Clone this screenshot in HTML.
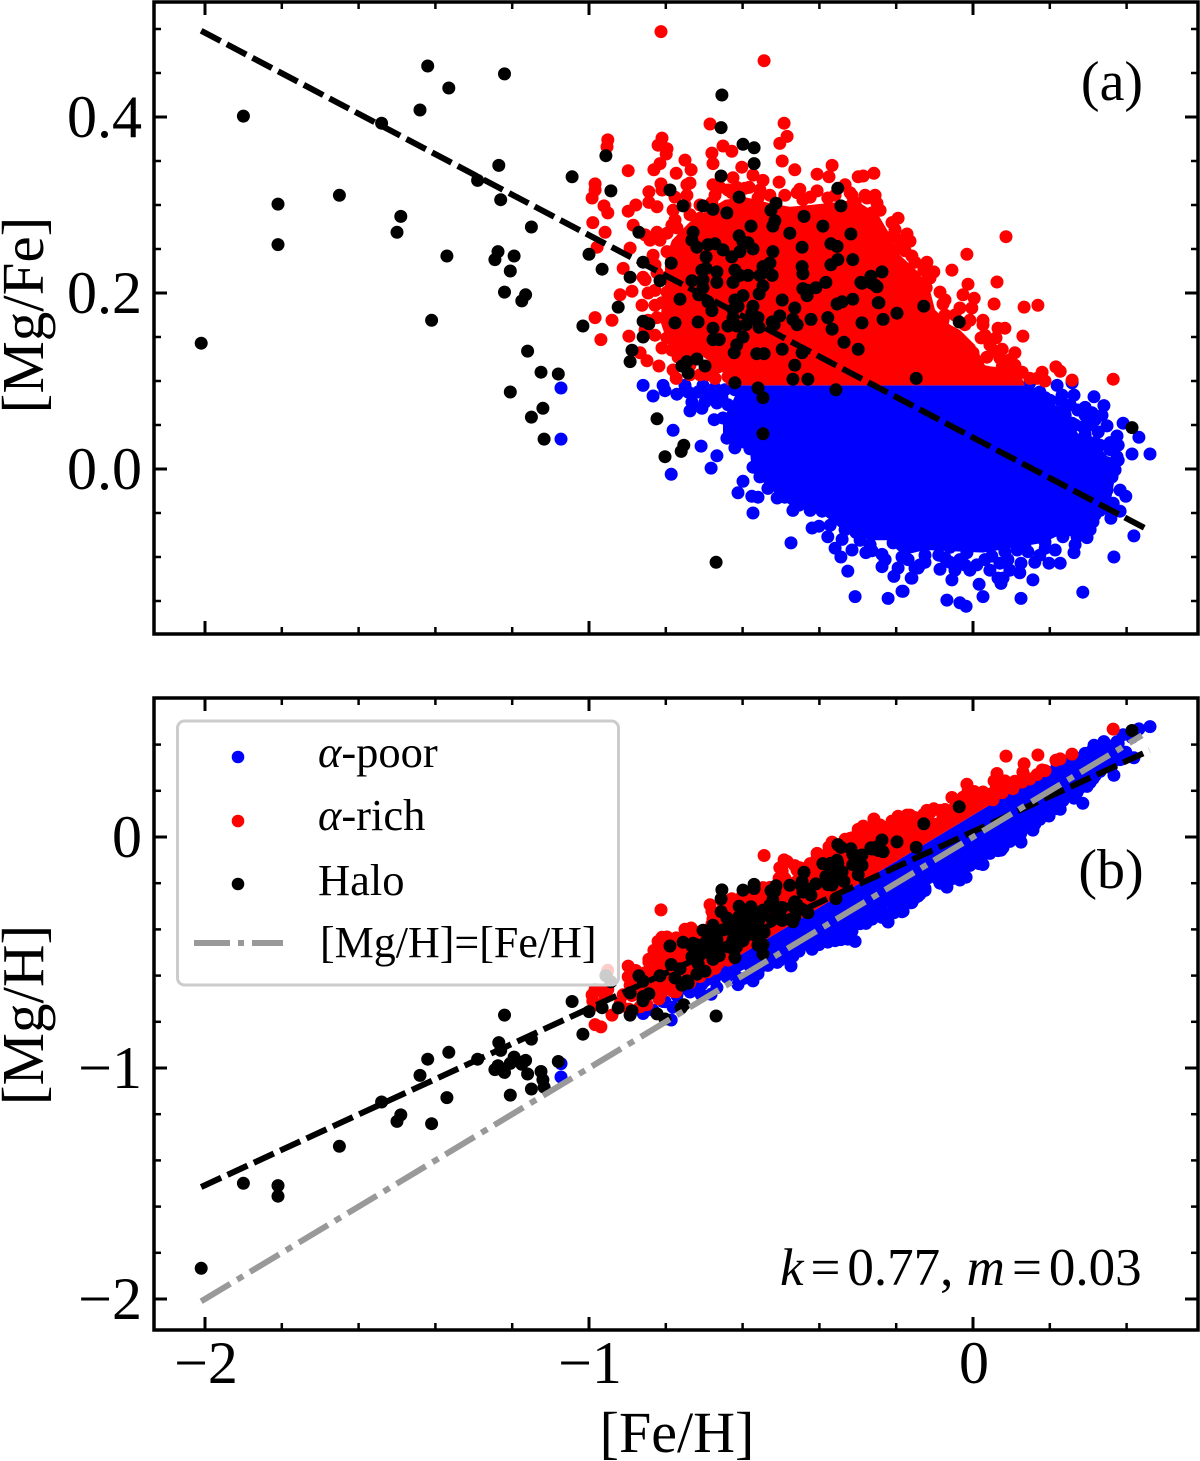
<!DOCTYPE html>
<html lang="en">
<head>
<meta charset="utf-8">
<title>[Mg/Fe] and [Mg/H] versus [Fe/H]</title>
<style>
html,body{margin:0;padding:0;background:#fff;width:1200px;height:1461px;overflow:hidden}
svg{display:block;font-family:"Liberation Serif",serif}
</style>
</head>
<body>
<svg id="chart" xmlns="http://www.w3.org/2000/svg" width="1200" height="1461" viewBox="0 0 1200 1461">
<rect x="0" y="0" width="1200" height="1461" fill="#fff"/>
<g id="panelA"></g>
<g id="panelB"></g>
<text transform="translate(43,315) rotate(-90)" text-anchor="middle" font-size="59">[Mg/Fe]</text>
<text transform="translate(43,1015) rotate(-90)" text-anchor="middle" font-size="59">[Mg/H]</text>
<text x="677" y="1452" text-anchor="middle" font-size="58">[Fe/H]</text>
<text x="1112" y="100" text-anchor="middle" font-size="56">(a)</text>
<text x="1111" y="888" text-anchor="middle" font-size="56">(b)</text>
<text x="780" y="1285" font-size="53"><tspan font-style="italic">k</tspan><tspan dx="7">=</tspan><tspan dx="7">0.77, </tspan><tspan font-style="italic">m</tspan><tspan dx="7">=</tspan><tspan dx="7">0.03</tspan></text>
<g id="legend">
<rect x="177.5" y="721" width="441" height="264" rx="7" fill="#fff" fill-opacity="0.8" stroke="#ccc" stroke-width="3"/>
<circle cx="238" cy="757" r="6.3" fill="#0000ff"/>
<text x="318" y="767" font-size="44.5"><tspan font-style="italic">α</tspan>-poor</text>
<circle cx="238" cy="821" r="6.3" fill="#ff0000"/>
<text x="318" y="830" font-size="44.5"><tspan font-style="italic">α</tspan>-rich</text>
<circle cx="238" cy="884" r="6.3" fill="#000"/>
<text x="318" y="895" font-size="44.5">Halo</text>
<line x1="194" y1="943" x2="283" y2="943" stroke="#999" stroke-width="6" stroke-dasharray="36 8 6 8"/>
<text x="320" y="957" font-size="44">[Mg/H]=[Fe/H]</text>
</g>
</svg>
<script>
// Each star is [ [Fe/H], [Mg/Fe] ]. Panel (b) plots [Mg/H] = [Fe/H] + [Mg/Fe].
const haloStars = [[-2.01,.143],[-1.9,.401],[-1.81,.301],[-1.81,.255],[-1.65,.311],[-1.54,.393],[-1.49,.287],[-1.5,.269],[-1.44,.408],[-1.42,.458],[-1.365,.433],[-1.41,.169],[-1.37,.242],[-1.29,.328],[-1.235,.345],[-1.22,.449],[-1.23,.306],[-1.237,.247],[-1.245,.238],[-1.195,.242],[-1.205,.225],[-1.22,.201],[-1.165,.198],[-1.175,.191],[-1.15,.275],[-1.16,.134],[-1.205,.0875],[-1.125,.11],[-1.08,.108],[-1.15,.059],[-1.12,.069],[-1.117,.034],
[-.654,.425],[-.656,.388],[-.599,.369],[-.57,.365],[-.57,.347],[-.656,.333],[-.956,.356],[-1.044,.332],[-.943,.316],[-.789,.317],[-.352,.319],[-.755,.299],[-.703,.299],[-.677,.295],[-.609,.309],[-.513,.302],[-.526,.294],[-.344,.299],[-.641,.291],[-.44,.287],[-.578,.276],[-.516,.282],[-.521,.276],[-.391,.276],[-.87,.269],[-.729,.269],[-.609,.265],[-.477,.268],[-.318,.267],
[-1,.244],[-.966,.227],[-1.016,.1625],[-.893,.218],[-.859,.235],[-.786,.234],[-.815,.214],[-.924,.184],[-.763,.193],[-.859,.168],[-.844,.165],[-.859,.15],[-.888,.135],[-.893,.122],[-.776,.166],[-.716,.167],[-.677,.16],[-.823,.057],
[-.732,.26],[-.719,.252],[-.69,.255],[-.672,.256],[-.651,.249],[-.695,.241],[-.695,.228],[-.706,.226],[-.667,.224],[-.732,.214],[-.703,.215],[-.667,.212],[-.703,.206],[-.714,.198],[-.69,.19],[-.68,.18],[-.599,.258],[-.586,.257],[-.573,.25],[-.607,.247],[-.628,.241],[-.521,.247],[-.529,.234],[-.547,.23],[-.555,.22],[-.523,.22],[-.62,.226],[-.607,.22],[-.586,.22],[-.625,.212],[-.547,.208],[-.557,.199],
[-.497,.192],[-.599,.197],[-.62,.192],[-.612,.185],[-.573,.185],[-.576,.177],[-.625,.181],[-.56,.172],[-.625,.172],[-.638,.1625],[-.615,.1625],[-.591,.164],[-.557,.161],[-.523,.167],[-.503,.174],[-.518,.164],[-.464,.183],[-.469,.17],[-.458,.164],[-.422,.17],[-.378,.172],[-.367,.159],[-.289,.166],
[-.445,.252],[-.445,.23],[-.443,.222],[-.443,.205],[-.43,.203],[-.432,.197],[-.409,.206],[-.383,.212],[-.37,.256],[-.354,.253],[-.37,.232],[-.352,.238],[-.313,.238],[-.341,.19],[-.354,.1875],[-.313,.193],[-.289,.211],[-.266,.219],[-.255,.209],[-.247,.189],
[-.677,.147],[-.661,.147],[-.599,.15],[-.615,.141],[-.622,.132],[-.563,.131],[-.544,.131],[-.497,.136],[-.445,.132],[-.464,.118],[-.336,.144],[-.299,.136],[-.469,.102],[-.43,.102],[-.62,.098],[-.56,.092],[-.547,.081],[-.357,.09],[-.547,.04],[-.758,.117],[-.742,.109],[-.745,.122],[-.719,.125],[-.698,.117],
[-.237,.224],[-.292,.212],[-.263,.211],[-.25,.207],[-.245,.189],[-.128,.185],[-.198,.177],[-.234,.17],[-.036,.167],[-.148,.103],[-.753,.027],[-.76,.02],[-.802,.014],[-.669,-.106],[.414,.047]];

const alphaRichStars = [[-.8125,.497],[-.544,.464],[-.951,.374],[-.953,.366],[-.685,.392],[-.492,.393],[-.484,.378],[-.503,.37],[-.81,.376],[-.82,.368],[-.797,.364],[-.799,.358],[-.68,.359],[-.651,.367],[-.628,.361],[-.75,.351],[-.815,.347],[-.831,.34],[-.898,.339],[-.734,.34],[-.773,.336],[-.677,.347],[-.602,.343],[-.497,.35],[-.464,.34],[-.367,.345],[-.406,.335],[-.375,.332],[-.573,.334],[-.547,.328],[-.505,.326],[-.984,.324],[-.984,.317],[-.992,.308],[-.8125,.324],[-.81,.317],[-.737,.325],[-.745,.323],[-.677,.323],[-.659,.32],[-.625,.331],[-.615,.32],[-.583,.32],[-.844,.315],[-.961,.299],[-.951,.291],[-.844,.303],[-.823,.298],[-.878,.3],[-.898,.293],[-.745,.311],[-.776,.309],[-.451,.318],[-.458,.314],[-.406,.316],[-.378,.308],[-.333,.323],[-.32,.314],[-.307,.303],[-.299,.332],[-.56,.308],[-.628,.314],[-.99,.28],[-.958,.269],[-.885,.277],[-.823,.269],[-.781,.294],[-.776,.283],[-.711,.285],[-.685,.28],[-.68,.303],[-.771,.274],[-.797,.268],[-.659,.266],[-.443,.306],[-.398,.291],[-.32,.286],
[-.979,.252],[-.893,.251],[-.911,.228],[-.854,.266],[-.859,.218],[-.833,.243],[-.797,.247],[-.919,.198],[-.888,.202],[-.862,.186],[-.846,.2],[-.81,.189],[-.984,.172],[-.94,.169],[-.969,.147],[-.896,.151],[-.823,.172],[-.854,.158],[-.794,.167],[-.81,.1375],[-.797,.149],[-.867,.132],[-.849,.123],[-.818,.117],[-.781,.1125],[-.773,.103],[-.768,.127],[-.724,.1375],[-.719,.15],[-.711,.107],[-.664,.116],[-.651,.126],[-.638,.105],[-.745,.15],[-.823,.223],[-.797,.218],[-.771,.203],[-.763,.177],[-.745,.234],[-.797,.201],[-.763,.161],[-.755,.135],[-.698,.139],
[-.286,.333],[-.258,.336],[-.315,.311],[-.276,.308],[-.25,.302],[-.3125,.302],[-.299,.291],[-.263,.291],[-.195,.285],[-.211,.28],[-.172,.267],[-.164,.259],[-.211,.264],[-.247,.253],[-.193,.251],[-.159,.242],[-.12,.235],[-.128,.226],[-.102,.224],[-.055,.226],[-.016,.244],[.086,.264],[-.125,.2125],[-.013,.21],[.0625,.2125],[-.086,.201],[-.122,.206],[-.026,.198],[.003,.194],[-.078,.1875],[.055,.1875],[.133,.184],[.169,.186],[-.034,.183],[-.003,.183],[-.078,.169],[.026,.169],[.026,.164],[-.008,.169],[.065,.16],[.083,.16],[.06,.149],[.021,.149],[.13,.151],[.076,.136],[.057,.134],[.109,.132],[.036,.127],[0,.132],[.076,.116],[.104,.1125],[.128,.11],[.216,.116],[.227,.111],[.18,.11],[.1875,.1],[.167,.103],[.258,.101],[.365,.102],[.104,.105],[.052,.109],
[-.737,.289],[-.711,.3],[-.672,.311],[-.638,.317],[-.594,.319],[-.555,.317],[-.529,.311],[-.49,.311],[-.424,.309],[-.359,.311],[-.281,.311],[-.242,.294],[-.203,.272],[-.19,.26],[-.151,.235],[-.112,.217],[-.073,.192],[-.047,.175],[-.021,.164],[.031,.152],[.044,.141],[.07,.126],[.096,.124],[.148,.103],[-.841,.26],[-.815,.26],[-.784,.277],[-.75,.3],[-.828,.232],[-.854,.215],[-.828,.203],[-.828,.186],[-.846,.169],[-.828,.152],[-.784,.135],[-.737,.118],[-.685,.115],[-.69,.107],[-.672,.103],[-.737,.107],[-.255,.311],[-.177,.248],[-.138,.209],[-.073,.175],[.109,.118]];

const alphaPoorStars = [[-1.073,.092],[-1.073,.034],[-.859,.095],[-.833,.083],[-.807,.095],[-.802,.089],[-.771,.085],[-.75,.095],[-.742,.0875],[-.732,.076],[-.737,.066],[-.706,.069],[-.698,.076],[-.703,.095],[-.672,.092],[-.654,.081],[-.674,.056],[-.651,.058],[-.781,.044],[-.708,.026],[-.667,.015],[-.682,.001],[-.786,-.006],[-.641,.035],[-.62,.024],[-.581,.023],[-.573,.002],[-.599,-.014],[-.612,-.027],[-.576,-.031],[-.56,-.032],[-.573,-.05],[-.534,-.022],[-.555,-.009],[-.503,-.015],[-.51,-.033],[-.49,-.032],[-.469,-.047],[-.453,-.041],[-.424,-.047],[-.393,-.048],[-.419,-.067],[-.401,-.065],[-.378,-.077],[-.359,-.09],[-.341,-.08],[-.344,-.1],[-.315,-.092],[-.305,-.072],[-.474,-.084],[-.326,-.116],[-.307,-.145],[-.279,-.095],[-.263,-.093],[-.237,-.097],[-.237,-.111],[-.206,-.122],[-.221,-.147],[-.185,-.139],[-.159,-.124],[-.195,-.1125],[-.151,-.1125],[-.208,-.084],[-.185,-.1],[-.443,-.016],[-.458,-.0125],[-.417,-.02],[-.51,.002],[-.536,.014],
[.219,.095],[.258,.099],[.232,.084],[.263,.084],[.315,.082],[.292,.07],[.341,.072],[.24,.069],[.193,.073],[.31,.064],[.336,.061],[.258,.052],[.286,.048],[.245,.042],[.349,.049],[.326,.042],[.391,.052],[.375,.0375],[.432,.036],[.357,.03],[.378,.027],[.414,.017],[.461,.017],[.375,.014],[.357,.022],[.3,.031],[.318,.03],[.271,.033],[.305,.022],[.331,.0125],[.349,.007],[.362,-.009],[.349,-.024],[.398,-.031],[.365,-.039],[.383,-.048],[.359,-.056],[.419,-.076],[.367,-.1],[.3125,-.06],[.292,-.066],[.297,-.078],[.271,-.077],[.234,-.077],[.263,-.095],[.286,-.14],[.227,-.107],[.198,-.107],[.161,-.106],[.1875,-.083],[.135,-.0875],[.125,-.107],[.122,-.118],[.156,-.126],[.125,-.147],[.091,-.103],[.07,-.107],[.049,-.099],[.078,-.124],[.065,-.124],[.073,-.13],[.016,-.131],[.026,-.145],[-.018,-.156],[-.034,-.152],[-.068,-.149],[-.055,-.126],[-.008,-.115],[.01,-.109],[-.047,-.115],[-.086,-.114],[-.089,-.098],[-.161,-.124],[-.143,-.1125],[-.125,-.106],[-.182,-.139],[-.016,-.095],[-.06,-.089],[.115,-.092],[.148,.098],[.148,.0875],[.258,.098],
[-.169,-.103],[-.125,-.098],[-.073,-.101],[-.034,-.103],[.031,-.103],[.083,-.094],[.143,-.094],[.188,-.09],[-.503,-.03],[-.451,-.03],[-.372,-.064],[-.333,-.069],[-.268,-.086],[-.294,-.081],[.331,-.047],[.318,-.052],[.279,-.066],[.253,-.069],[.305,-.069],[.331,.027],[.292,.039],[.266,.05],[.24,.061],[.201,.078],[.305,.05],[.318,.056],[.292,.061],[.273,.067],[.253,.073],[.227,.078],[.37,-.001],[.378,.01],[.383,-.024],[.357,-.047],[-.646,.09],[-.62,.09],[-.638,.073],[-.716,.0875],[-.685,.084],[-.667,.075],[.148,.084],[.174,.0875],[.188,.081],[-.229,-.103],[-.138,-.109],[.044,-.115],[.096,-.115],[.174,-.098],[.214,-.092],[.266,-.086],[-.06,-.106],[-.021,-.109]];

// Outlines of the saturated regions where thousands of overplotted stars merge into solid colour.
const alphaRichDenseOutline = [[-.641,.095],[-.654,.1125],[-.711,.13],[-.763,.124],[-.794,.141],[-.815,.169],[-.802,.209],[-.802,.2375],[-.784,.26],[-.737,.281],[-.698,.292],[-.646,.306],[-.594,.309],[-.529,.302],[-.477,.298],[-.424,.3],[-.359,.303],[-.307,.306],[-.247,.289],[-.216,.266],[-.19,.243],[-.143,.224],[-.112,.203],[-.099,.181],[-.06,.164],[-.034,.158],[.005,.141],[.031,.118],[.122,.11],[.135,.095]];
const alphaPoorDenseOutline = [[-.607,.095],[-.625,.078],[-.651,.056],[-.651,.036],[-.62,.025],[-.581,.022],[-.576,-.003],[-.529,-.022],[-.477,-.041],[-.398,-.049],[-.346,-.067],[-.268,-.081],[-.224,-.081],[-.182,-.098],[-.125,-.092],[.026,-.095],[.07,-.092],[.182,-.084],[.24,-.072],[.292,-.061],[.357,-.041],[.37,-.009],[.357,.01],[.323,.03],[.279,.036],[.253,.056],[.227,.07],[.148,.086],[.141,.095]];

const fitFeH = [-2.01, .46];
const fitMgFe = [.498, -.07];
const fitMgH = [-1.515, .375];
const identityFeH = [-2.01, .44];

const xMajorTicks = [-2, -1, 0];
const xMajorLabels = ['−2', '−1', '0'];
const xMinorTicks = [-1.8, -1.6, -1.4, -1.2, -.8, -.6, -.4, -.2, .2, .4];
const yMajorTicksA = [0, .2, .4];
const yMajorLabelsA = ['0.0', '0.2', '0.4'];
const yMinorTicksA = [-.15, -.1, -.05, .05, .1, .15, .25, .3, .35, .45, .5];
const yMajorTicksB = [-2, -1, 0];
const yMajorLabelsB = ['−2', '−1', '0'];
const yMinorTicksB = [-1.8, -1.6, -1.4, -1.2, -.8, -.6, -.4, -.2, .2, .4];

const SVGNS = 'http://www.w3.org/2000/svg';
const frameLeft = 154, frameRight = 1198;
const starRadius = 6.5;
const xPx = function (feh) { return 973 + 384 * feh; };
const yPxA = function (v) { return 469 - 880 * v; };
const yPxB = function (v) { return 837 - 231 * v; };
const toA = function (s) { return [xPx(s[0]), yPxA(s[1])]; };
const toB = function (s) { return [xPx(s[0]), yPxB(s[0] + s[1])]; };

function drawStars(parent, stars, map, color, r) {
  stars.forEach(function (s) {
    const p = map(s);
    const el = document.createElementNS(SVGNS, 'circle');
    
    
    el.setAttribute('cx', p[0].toFixed(1));
    el.setAttribute('cy', p[1].toFixed(1));
    el.setAttribute('r', r);
    el.setAttribute('fill', color);
    parent.appendChild(el);
  });
}
function drawDense(parent, outline, map, color) {
  const el = document.createElementNS(SVGNS, 'polygon');
  
  
  el.setAttribute('points', outline.map(function (s) { return map(s).map(function (n) { return n.toFixed(1); }).join(','); }).join(' '));
  el.setAttribute('fill', color);
  parent.appendChild(el);
}
function drawLine(parent, x1, y1, x2, y2, color, width, dash) {
  const el = document.createElementNS(SVGNS, 'line');
  
  
  el.setAttribute('x1', x1);
  el.setAttribute('y1', y1);
  el.setAttribute('x2', x2);
  el.setAttribute('y2', y2);
  el.setAttribute('stroke', color);
  el.setAttribute('stroke-width', width);
  if (dash) el.setAttribute('stroke-dasharray', dash);
  parent.appendChild(el);
}
function drawTick(parent, x1, y1, x2, y2, width) {
  const el = document.createElementNS(SVGNS, 'line');
  
  
  el.setAttribute('x1', x1);
  el.setAttribute('y1', y1);
  el.setAttribute('x2', x2);
  el.setAttribute('y2', y2);
  el.setAttribute('stroke', '#000');
  el.setAttribute('stroke-width', width);
  parent.appendChild(el);
}
function drawLabel(parent, x, y, anchor, str) {
  const el = document.createElementNS(SVGNS, 'text');
  
  
  el.setAttribute('x', x);
  el.setAttribute('y', y);
  el.setAttribute('text-anchor', anchor);
  el.setAttribute('font-size', '60');
  el.textContent = str;
  parent.appendChild(el);
}
function drawFrame(parent, top, bottom, yScale, yMajor, yMajorLabels, yMinor, showX) {
  xMajorTicks.forEach(function (t, i) {
    const x = xPx(t);
    drawTick(parent, x, bottom, x, bottom - 13, 3);
    drawTick(parent, x, top, x, top + 13, 3);
    if (showX) drawLabel(parent, x + 1, 1383, 'middle', xMajorLabels[i]);
  });
  xMinorTicks.forEach(function (t) {
    const x = xPx(t);
    drawTick(parent, x, bottom, x, bottom - 7, 2.5);
    drawTick(parent, x, top, x, top + 7, 2.5);
  });
  yMajor.forEach(function (t, i) {
    const y = yScale(t);
    drawTick(parent, frameLeft, y, frameLeft + 13, y, 3);
    drawTick(parent, frameRight, y, frameRight - 13, y, 3);
    drawLabel(parent, 142, y + 20, 'end', yMajorLabels[i]);
  });
  yMinor.forEach(function (t) {
    const y = yScale(t);
    drawTick(parent, frameLeft, y, frameLeft + 7, y, 2.5);
    drawTick(parent, frameRight, y, frameRight - 7, y, 2.5);
  });
  const el = document.createElementNS(SVGNS, 'rect');
  
  
  el.setAttribute('x', frameLeft);
  el.setAttribute('y', top);
  el.setAttribute('width', frameRight - frameLeft);
  el.setAttribute('height', bottom - top);
  el.setAttribute('fill', 'none');
  el.setAttribute('stroke', '#000');
  el.setAttribute('stroke-width', '3.5');
  parent.appendChild(el);
}

const panelA = document.getElementById('panelA');
const panelB = document.getElementById('panelB');

drawDense(panelA, alphaPoorDenseOutline, toA, '#0000ff');
drawStars(panelA, alphaPoorStars, toA, '#0000ff', starRadius);
drawDense(panelA, alphaRichDenseOutline, toA, '#ff0000');
drawStars(panelA, alphaRichStars, toA, '#ff0000', starRadius);
drawStars(panelA, haloStars, toA, '#000', starRadius);
drawLine(panelA, xPx(fitFeH[0]), yPxA(fitMgFe[0]), xPx(fitFeH[1]), yPxA(fitMgFe[1]), '#000', 6, '22 7');
drawFrame(panelA, 2, 634, yPxA, yMajorTicksA, yMajorLabelsA, yMinorTicksA, false);

drawDense(panelB, alphaPoorDenseOutline, toB, '#0000ff');
drawStars(panelB, alphaPoorStars, toB, '#0000ff', starRadius);
drawDense(panelB, alphaRichDenseOutline, toB, '#ff0000');
drawStars(panelB, alphaRichStars, toB, '#ff0000', starRadius);
drawStars(panelB, haloStars, toB, '#000', starRadius);
drawLine(panelB, xPx(fitFeH[0]), yPxB(fitMgH[0]), xPx(fitFeH[1]), yPxB(fitMgH[1]), '#000', 6, '22 7');
drawLine(panelB, xPx(identityFeH[0]), yPxB(identityFeH[0]), xPx(identityFeH[1]), yPxB(identityFeH[1]), '#999', 6, '34 8 7 8');
drawFrame(panelB, 698, 1330, yPxB, yMajorTicksB, yMajorLabelsB, yMinorTicksB, true);
</script>
</body>
</html>
